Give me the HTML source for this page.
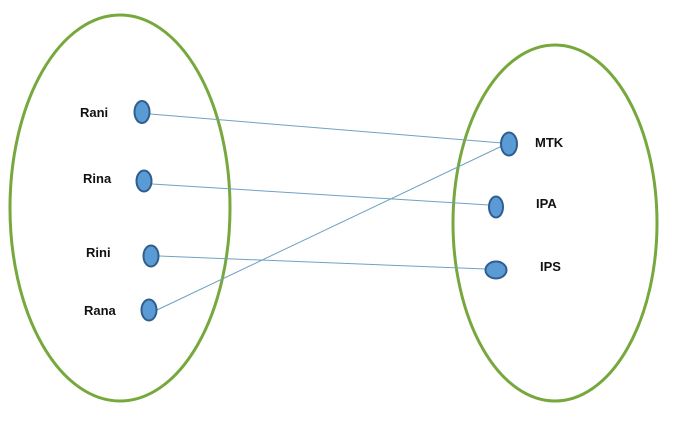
<!DOCTYPE html>
<html><head><style>body{margin:0;background:#fff}svg{display:block}</style></head><body>
<svg width="676" height="426" xmlns="http://www.w3.org/2000/svg" font-family="Liberation Sans, sans-serif" font-weight="bold" font-size="13">
<ellipse cx="120" cy="208" rx="110" ry="193" fill="none" stroke="#77a83d" stroke-width="3"/>
<ellipse cx="555" cy="223" rx="102" ry="178" fill="none" stroke="#77a83d" stroke-width="3"/>
<g stroke="#6fa2c0" stroke-width="1">
<line x1="150" y1="114" x2="502" y2="143"/>
<line x1="152" y1="184" x2="489" y2="205"/>
<line x1="159" y1="256" x2="486" y2="269"/>
<line x1="157" y1="310" x2="502" y2="146"/>
</g>
<g fill="#5b9bd5" stroke="#2f5e8e" stroke-width="2">
<ellipse cx="142" cy="112" rx="7.5" ry="11"/>
<ellipse cx="144" cy="181" rx="7.5" ry="10.5"/>
<ellipse cx="151" cy="256" rx="7.5" ry="10.5"/>
<ellipse cx="149" cy="310" rx="7.5" ry="10.5"/>
<ellipse cx="509" cy="144" rx="8" ry="11.5"/>
<ellipse cx="496" cy="207" rx="7" ry="10.5"/>
<ellipse cx="496" cy="270" rx="10.5" ry="8.5"/>
</g>
<g fill="#111">
<text x="80" y="117">Rani</text>
<text x="83" y="183">Rina</text>
<text x="86" y="257">Rini</text>
<text x="84" y="315">Rana</text>
<text x="535" y="147">MTK</text>
<text x="536" y="208">IPA</text>
<text x="540" y="271">IPS</text>
</g>
</svg>
</body></html>
